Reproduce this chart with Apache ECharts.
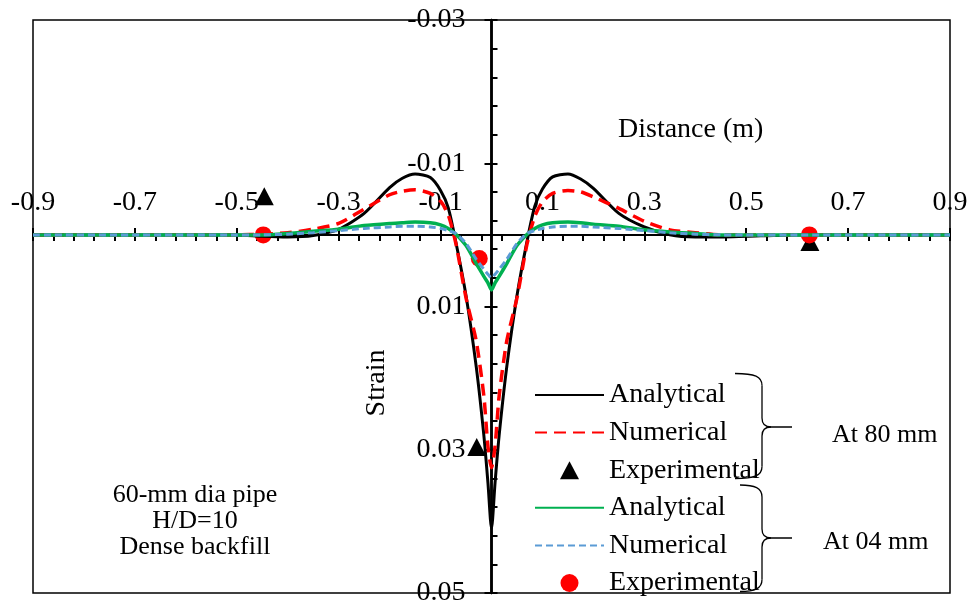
<!DOCTYPE html>
<html>
<head>
<meta charset="utf-8">
<script src="https://cdn.jsdelivr.net/npm/echarts@6/dist/echarts.min.js"></script>
<style>
  html, body { margin: 0; padding: 0; background: #fff; }
  #chart { width: 970px; height: 609px; }
</style>
</head>
<body>
<div id="chart"></div>
<script>
// distance along pipe (m)
const distance = [-0.9, -0.6, -0.5, -0.45, -0.4, -0.35, -0.3, -0.25, -0.2, -0.175, -0.15, -0.12, -0.1, -0.085, -0.07, -0.05, -0.03, -0.015, -0.007, 0,
  0.007, 0.015, 0.03, 0.05, 0.07, 0.085, 0.1, 0.12, 0.15, 0.175, 0.2, 0.25, 0.3, 0.35, 0.4, 0.45, 0.5, 0.6, 0.9];

// strain at 80 mm
const analytical80 = [0, 0, 0, 0.0002, 0.0003, 0.0001, -0.0008, -0.003, -0.0066, -0.0079, -0.0085, -0.008, -0.0062, -0.0038, 0.001, 0.0085, 0.0184, 0.028, 0.0346, 0.041,
  0.0346, 0.028, 0.0184, 0.0085, 0.0008, -0.004, -0.0064, -0.0081, -0.0085, -0.0078, -0.0065, -0.003, -0.0011, 0, 0.0003, 0.0003, 0.0002, 0, 0];
const numerical80 = [0, 0, 0, -0.0001, -0.0003, -0.0008, -0.0016, -0.0036, -0.0056, -0.0061, -0.0063, -0.0058, -0.0047, -0.0028, 0.0012, 0.0088, 0.0148, 0.0225, 0.0295, 0.0325,
  0.0295, 0.0225, 0.0148, 0.0088, 0.0012, -0.0026, -0.0046, -0.0058, -0.0062, -0.006, -0.0053, -0.0037, -0.0019, -0.0007, -0.0003, 0, 0, 0, 0];
const experimental80 = [[-0.446, -0.0054], [-0.029, 0.0296], [0.625, 0.001]];

// strain at 04 mm
const analytical04 = [0, 0, 0, 0, -0.0002, -0.0005, -0.0008, -0.0013, -0.0016, -0.0017, -0.0018, -0.0017, -0.0014, -0.0009, -0.0001, 0.0015, 0.004, 0.0058, 0.0067, 0.0077,
  0.0067, 0.0058, 0.004, 0.0015, -0.0001, -0.0009, -0.0014, -0.0017, -0.0018, -0.0017, -0.0015, -0.0012, -0.0007, -0.0004, -0.0002, 0, 0, 0, 0];
const numerical04 = [0, 0, 0, 0, -0.0001, -0.0003, -0.0006, -0.0009, -0.0011, -0.0012, -0.0012, -0.0011, -0.0009, -0.0006, -0.0002, 0.0012, 0.0034, 0.0048, 0.0055, 0.006,
  0.0055, 0.0048, 0.0034, 0.0012, -0.0002, -0.0006, -0.0009, -0.0011, -0.0012, -0.0012, -0.0011, -0.0009, -0.0006, -0.0003, -0.0001, 0, 0, 0, 0];
const experimental04 = [[-0.448, 0], [-0.024, 0.0033], [0.624, 0]];

const noteLines = ['60-mm dia pipe', 'H/D=10', 'Dense backfill'];

const FONT = '"Liberation Serif", "Times New Roman", serif';
const black = '#000';
const pairs = (ys) => distance.map((x, i) => [x, ys[i]]);

// plot box and where the zero lines fall inside it
const G = { left: 33, top: 20, right: 20, bottom: 16, w: 917, h: 573 };
const xMin = -0.9, xMax = 0.9, yMin = -0.03, yMax = 0.05;
const zeroX = G.w * (0 - xMin) / (xMax - xMin);   // from plot left
const zeroY = G.h * (0 - yMin) / (yMax - yMin);   // from plot top

const axisX = { type: 'value', min: xMin, max: xMax, interval: 0.2, splitLine: { show: false } };
const axisY = { type: 'value', inverse: true, min: yMin, max: yMax, interval: 0.02, splitLine: { show: false } };
const tickStyle = { color: black, width: 2 };

function brace(top, mid, bottom, endX) {
  const sx = 762, tipX = 771;
  const st = { stroke: black, lineWidth: 1.3, fill: null };
  return [
    { type: 'bezierCurve', shape: { x1: endX, y1: top, cpx1: 755, cpy1: top, cpx2: sx, cpy2: top + 3, x2: sx, y2: top + 12 }, style: st },
    { type: 'line', shape: { x1: sx, y1: top + 12, x2: sx, y2: mid - 9 }, style: st },
    { type: 'bezierCurve', shape: { x1: sx, y1: mid - 9, cpx1: sx, cpy1: mid - 3, cpx2: 765, cpy2: mid, x2: tipX, y2: mid }, style: st },
    { type: 'bezierCurve', shape: { x1: tipX, y1: mid, cpx1: 765, cpy1: mid, cpx2: sx, cpy2: mid + 3, x2: sx, y2: mid + 9 }, style: st },
    { type: 'line', shape: { x1: sx, y1: mid + 9, x2: sx, y2: bottom - 12 }, style: st },
    { type: 'bezierCurve', shape: { x1: sx, y1: bottom - 12, cpx1: sx, cpy1: bottom - 3, cpx2: 755, cpy2: bottom, x2: endX, y2: bottom }, style: st },
    { type: 'line', shape: { x1: tipX, y1: mid, x2: 792, y2: mid }, style: { stroke: black, lineWidth: 1.5 } }
  ];
}

function text(x, y, str, size, align, extra) {
  return Object.assign({
    type: 'text', x: x, y: y,
    style: { text: str, font: size + 'px ' + FONT, fill: black, align: align, verticalAlign: 'middle', textAlign: align, textVerticalAlign: 'middle' }
  }, extra || {});
}

const chart = echarts.init(document.getElementById('chart'));
chart.setOption({
  animation: false,
  backgroundColor: '#fff',
  grid: { left: G.left, top: G.top, right: G.right, bottom: G.bottom, containLabel: false, outerBoundsMode: 'none',
    show: true, borderColor: black, borderWidth: 1.5 },
  xAxis: [
    // labels + upper half of the major ticks
    Object.assign({}, axisX, {
      position: 'top', offset: -zeroY,
      axisLine: { onZero: false, lineStyle: { color: black, width: 2 } },
      axisTick: { show: true, length: 7, lineStyle: tickStyle },
      axisLabel: { margin: 18, color: black, fontFamily: FONT, fontSize: 28 }
    }),
    // lower half of the major ticks + minor ticks
    Object.assign({}, axisX, {
      position: 'bottom', offset: zeroY - G.h,
      axisLine: { onZero: false, lineStyle: { color: black, width: 2 } },
      axisTick: { show: true, length: 6, lineStyle: tickStyle },
      minorTick: { show: true, splitNumber: 5, length: 6, lineStyle: tickStyle },
      axisLabel: { show: false }
    })
  ],
  yAxis: [
    Object.assign({}, axisY, {
      position: 'left', offset: -zeroX,
      axisLine: { onZero: false, lineStyle: { color: black, width: 2.5 } },
      axisTick: { show: true, length: 7, lineStyle: tickStyle },
      axisLabel: { margin: 26, color: black, fontFamily: FONT, fontSize: 28 }
    }),
    Object.assign({}, axisY, {
      position: 'right', offset: zeroX - G.w,
      axisLine: { onZero: false, lineStyle: { color: black, width: 2.5 } },
      axisTick: { show: true, length: 6, lineStyle: tickStyle },
      minorTick: { show: true, splitNumber: 5, length: 6, lineStyle: tickStyle },
      axisLabel: { show: false }
    })
  ],
  legend: {
    orient: 'vertical', left: 529, top: 376,
    itemWidth: 69, itemHeight: 18, itemGap: 9.6,
    selectedMode: false,
    textStyle: { fontFamily: FONT, fontSize: 28, color: black },
    formatter: (name) => name.split(' ')[0],
    data: [
      { name: 'Analytical 80', itemStyle: { opacity: 0 } },
      { name: 'Numerical 80', itemStyle: { opacity: 0 } },
      { name: 'Experimental 80', icon: 'path://M9,0L18,17L0,17Z' },
      { name: 'Analytical 04', itemStyle: { opacity: 0 } },
      { name: 'Numerical 04', itemStyle: { opacity: 0 } },
      { name: 'Experimental 04' }
    ]
  },
  series: [
    { name: 'Analytical 80', type: 'line', data: pairs(analytical80), symbol: 'none', smooth: 0.25,
      lineStyle: { color: black, width: 3, join: 'round' }, itemStyle: { color: black } },
    { name: 'Numerical 80', type: 'line', data: pairs(numerical80), symbol: 'none', smooth: 0.25,
      lineStyle: { color: '#ff0000', width: 3.5, type: [12, 7] }, itemStyle: { color: '#ff0000' } },
    { name: 'Experimental 80', type: 'scatter', data: experimental80, symbol: 'triangle', symbolSize: [19, 18],
      itemStyle: { color: black, opacity: 1 } },
    { name: 'Analytical 04', type: 'line', data: pairs(analytical04), symbol: 'none', smooth: 0.25,
      lineStyle: { color: '#00b050', width: 3.5, join: 'round' }, itemStyle: { color: '#00b050' } },
    { name: 'Numerical 04', type: 'line', data: pairs(numerical04), symbol: 'none', smooth: 0.25,
      lineStyle: { color: '#5b9bd5', width: 3, type: [7, 4] }, itemStyle: { color: '#5b9bd5' } },
    { name: 'Experimental 04', type: 'scatter', data: experimental04, symbol: 'circle', symbolSize: 17,
      itemStyle: { color: '#ff0000', opacity: 1 } }
  ],
  graphic: [
    text(618, 130, 'Distance (m)', 28, 'left'),
    text(377, 383, 'Strain', 28, 'center', { rotation: Math.PI / 2 }),
    text(195, 521, noteLines.join('\n'), 26, 'center', {}),
    text(832, 435, 'At 80 mm', 26, 'left'),
    text(823, 542, 'At 04 mm', 26, 'left')
  ].concat(brace(373.5, 427, 478.5, 735), brace(485, 538, 591.5, 740))
});
</script>
</body>
</html>
